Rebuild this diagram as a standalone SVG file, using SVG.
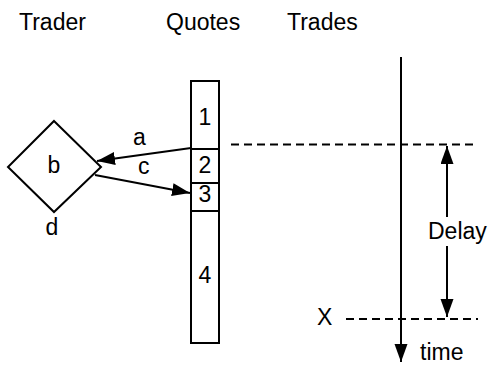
<svg xmlns="http://www.w3.org/2000/svg" width="488" height="366" viewBox="0 0 488 366">
<defs>
<style>
text{font-family:"Liberation Sans",Arial,Helvetica,sans-serif;font-size:23px;fill:#000}
.m{text-anchor:middle}
.s{fill:none;stroke:#000;stroke-width:2}
.d{fill:none;stroke:#000;stroke-width:2;stroke-dasharray:8,5}
</style>
<marker id="ah" markerUnits="userSpaceOnUse" markerWidth="20" markerHeight="14" refX="18" refY="6.5" orient="auto">
<path d="M0,0 L18,6.5 L0,13 z" fill="#000"/>
</marker>
</defs>
<rect width="488" height="366" fill="#fff"/>
<g id="headers">
<text x="19" y="30">Trader</text>
<text x="166" y="30">Quotes</text>
<text x="287" y="30">Trades</text>
</g>
<g id="trader">
<path class="s" d="M54,121 L101,167 L54,212 L8,167 z"/>
<text class="m" x="54" y="173">b</text>
<text class="m" x="52" y="235">d</text>
</g>
<g id="quotes">
<rect class="s" x="191" y="81" width="28" height="262"/>
<line class="s" x1="191" y1="149" x2="219" y2="149"/>
<line class="s" x1="191" y1="183" x2="219" y2="183"/>
<line class="s" x1="191" y1="211" x2="219" y2="211"/>
<text class="m" x="205" y="125">1</text>
<text class="m" x="205" y="173">2</text>
<text class="m" x="205" y="202">3</text>
<text class="m" x="205" y="283">4</text>
</g>
<g id="timeline">
<line class="s" x1="401" y1="57" x2="401" y2="362" marker-end="url(#ah)"/>
<text x="420" y="360">time</text>
<text x="317" y="325">X</text>
<text x="428" y="239">Delay</text>
</g>
<g id="connectors">
<line class="s" x1="191" y1="148" x2="97" y2="161" marker-end="url(#ah)"/>
<text x="133" y="145">a</text>
<line class="s" x1="95" y1="175" x2="190" y2="193" marker-end="url(#ah)"/>
<text x="138" y="174">c</text>
<line class="d" x1="231" y1="144.5" x2="478" y2="144.5"/>
<line class="d" x1="346" y1="319" x2="478" y2="319"/>
<line class="s" x1="447" y1="217" x2="447" y2="146" marker-end="url(#ah)"/>
<line class="s" x1="447" y1="246" x2="447" y2="317" marker-end="url(#ah)"/>
</g>
</svg>
